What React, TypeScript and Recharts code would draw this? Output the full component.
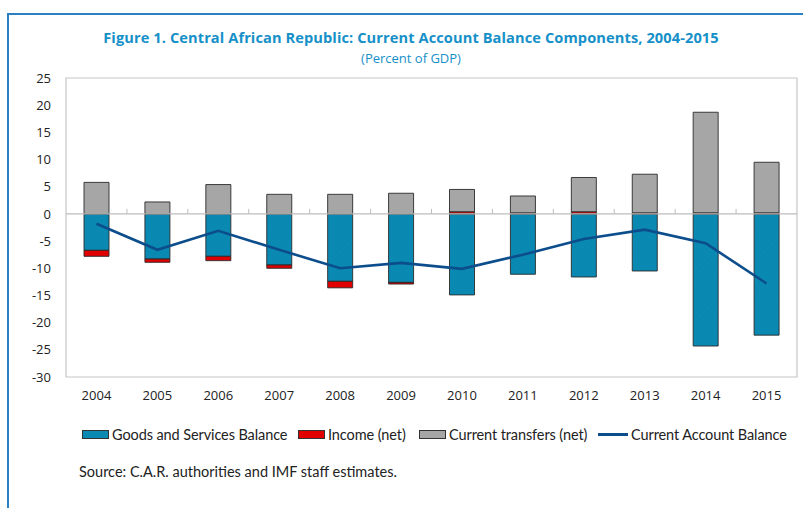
import React from "react";
import { ComposedChart, Bar, Line, XAxis, YAxis, ReferenceLine, ReferenceArea } from "recharts";

const years = ["2004", "2005", "2006", "2007", "2008", "2009", "2010", "2011", "2012", "2013", "2014", "2015"];
const goodsServices = [-6.7, -8.3, -7.8, -9.4, -12.4, -12.6, -14.9, -11.1, -11.6, -10.5, -24.3, -22.3];
const incomeNet = [-1.1, -0.6, -0.8, -0.6, -1.2, -0.3, 0.4, 0.2, 0.4, 0.2, 0.2, 0.2];
const transfersNet = [5.8, 2.2, 5.4, 3.6, 3.6, 3.8, 4.1, 3.1, 6.3, 7.1, 18.5, 9.3];
const currentAccount = [-1.8, -6.6, -3.1, -6.6, -10.0, -9.0, -10.1, -7.5, -4.6, -2.9, -5.4, -12.8];
const yTicks = [25, 20, 15, 10, 5, 0, -5, -10, -15, -20, -25, -30];

const data = years.map((year, i) => ({
  year,
  goods: goodsServices[i],
  income: incomeNet[i],
  transfers: transfersNet[i],
  cab: currentAccount[i],
}));

const BLUE = "#0a89b3";
const RED = "#e00000";
const GRAY = "#a6a6a6";
const LINE = "#0c4d8c";
const TITLE = "#1690c8";
const FONT = "'Open Sans', sans-serif";
const NARROW = "Lato, sans-serif";

// zero line with small upward ticks between categories
const ZeroLine = (props: any) => {
  const { x1, x2, y1 } = props;
  const step = (x2 - x1) / years.length;
  return (
    <g>
      <line x1={x1} x2={x2} y1={y1} y2={y1} stroke="#bdbdbd" strokeWidth={1.2} />
      {years.slice(1).map((_, i) => (
        <line key={i} x1={x1 + step * (i + 1)} x2={x1 + step * (i + 1)} y1={y1 - 5} y2={y1} stroke="#bdbdbd" />
      ))}
    </g>
  );
};

const legendItems = [
  { label: "Goods and Services Balance", color: BLUE, left: 82, kind: "box" },
  { label: "Income (net)", color: RED, left: 298, kind: "box" },
  { label: "Current transfers (net)", color: GRAY, left: 419, kind: "box" },
  { label: "Current Account Balance", color: LINE, left: 598, kind: "line" },
];

export default function App() {
  return (
    <div style={{ position: "absolute", left: 0, top: 0, width: 803, height: 508, background: "#fff", overflow: "hidden" }}>
      <div style={{ position: "absolute", left: 7, top: 13, width: 796, height: 495, borderLeft: "2px solid #2b7fc3", borderTop: "2px solid #2b7fc3" }} />
      <div style={{ position: "absolute", left: 0, width: 822, top: 27, textAlign: "center", fontFamily: FONT, fontWeight: 700, fontSize: 14.6, color: TITLE, letterSpacing: 0.1 }}>
        Figure 1. Central African Republic: Current Account Balance Components, 2004-2015
      </div>
      <div style={{ position: "absolute", left: 0, width: 822, top: 49, textAlign: "center", fontFamily: FONT, fontSize: 13, color: TITLE }}>
        (Percent of GDP)
      </div>

      <div style={{ position: "absolute", left: 0, top: 0 }}>
        <ComposedChart
          width={803}
          height={420}
          data={data}
          stackOffset="sign"
          margin={{ top: 78, right: 6, left: 16, bottom: 13 }}
        >
          <defs>
            <pattern id="goodsHatch" width="4" height="4" patternUnits="userSpaceOnUse" patternTransform="rotate(45)">
              <rect width="4" height="4" fill={BLUE} />
              <line x1="0" y1="0" x2="0" y2="4" stroke="#0885ae" strokeWidth="1" />
            </pattern>
          </defs>
          <ReferenceArea y1={-30} y2={25} fill="none" stroke="#c6c6c6" strokeWidth={1.2} />
          <XAxis
            dataKey="year"
            axisLine={false}
            tickLine={false}
            tickSize={0}
            tickMargin={14}
            height={30}
            tick={{ fontSize: 13, fontFamily: FONT, fill: "#222" }}
            interval={0}
          />
          <YAxis
            domain={[-30, 25]}
            ticks={yTicks}
            interval={0}
            axisLine={false}
            tickLine={false}
            tickSize={0}
            tickMargin={15}
            width={50}
            tick={{ fontSize: 13, fontFamily: FONT, fill: "#222" }}
          />
          <Bar dataKey="goods" stackId="a" fill="url(#goodsHatch)" stroke="#2a2a2a" strokeWidth={0.9} barSize={25} isAnimationActive={false} />
          <Bar dataKey="income" stackId="a" fill={RED} stroke="#2a2a2a" strokeWidth={0.9} barSize={25} isAnimationActive={false} />
          <Bar dataKey="transfers" stackId="a" fill={GRAY} stroke="#2a2a2a" strokeWidth={0.9} barSize={25} isAnimationActive={false} />
          <ReferenceLine y={0} shape={ZeroLine} />
          <Line dataKey="cab" type="linear" stroke={LINE} strokeWidth={2.6} dot={false} activeDot={false} isAnimationActive={false} />
        </ComposedChart>
      </div>

      {legendItems.map((it) => (
        <div key={it.label} style={{ position: "absolute", left: it.left, top: 424, display: "flex", alignItems: "center", height: 20 }}>
          {it.kind === "box" ? (
            <div style={{ width: 25, height: 7, background: it.color, border: "1px solid #333" }} />
          ) : (
            <div style={{ width: 30, height: 3, background: it.color }} />
          )}
          <span style={{ marginLeft: 3, fontFamily: NARROW, fontSize: 14.5, color: "#222", letterSpacing: -0.1, whiteSpace: "nowrap" }}>{it.label}</span>
        </div>
      ))}

      <div style={{ position: "absolute", left: 79, top: 463, fontFamily: NARROW, fontSize: 14.5, color: "#222", letterSpacing: 0, whiteSpace: "nowrap" }}>
        Source: C.A.R. authorities and IMF staff estimates.
      </div>
    </div>
  );
}
